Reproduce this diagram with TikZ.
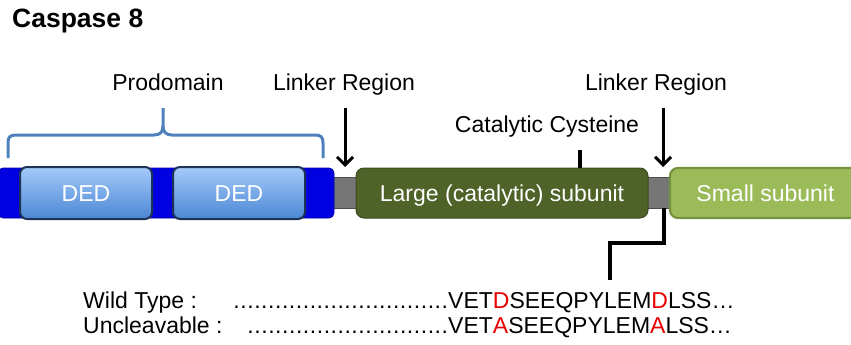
\documentclass[tikz,border=0pt]{standalone}
\usepackage{fontspec}
\setmainfont{Liberation Sans}
\usetikzlibrary{arrows.meta}
\definecolor{bluebar}{RGB}{0,0,225}
\definecolor{bluebord}{RGB}{0,0,170}
\definecolor{dedtop}{RGB}{165,202,250}
\definecolor{dedbot}{RGB}{75,135,212}
\definecolor{dedborder}{RGB}{30,50,85}
\definecolor{largeg}{RGB}{79,98,40}
\definecolor{largeb}{RGB}{60,75,30}
\definecolor{smallg}{RGB}{155,187,89}
\definecolor{smallb}{RGB}{118,146,62}
\definecolor{linkg}{RGB}{118,118,118}
\definecolor{bracec}{RGB}{79,129,189}
\definecolor{mutred}{RGB}{235,0,0}
\newcommand{\seqdots}[1]{\hbox to #1{\xleaders\hbox to 6.9pt{\hss.\hss}\hfill}}
\begin{document}
\begin{tikzpicture}[x=1pt,y=-1pt,
  lbl/.style={font=\fontsize{23}{27}\selectfont, inner sep=0pt, anchor=base},
  boxtxt/.style={font=\fontsize{23}{27}\selectfont, text=white, inner sep=0pt, text height=16.5pt, text depth=0pt},
  dedbox/.style={boxtxt, draw=dedborder, line width=2pt, rounded corners=7pt, top color=dedtop, bottom color=dedbot, minimum width=132pt, minimum height=52pt},
  probar/.style={draw=bluebord, line width=0.8pt, fill=bluebar, rounded corners=5pt, inner sep=0pt},
  linkbar/.style={draw=black!70, line width=0.8pt, fill=linkg, inner sep=0pt},
  largebox/.style={boxtxt, draw=largeb, line width=1pt, fill=largeg, rounded corners=8pt},
  smallbox/.style={boxtxt, draw=smallb, line width=2.2pt, fill=smallg, rounded corners=8pt},
  arr/.style={line width=3pt, -{Straight Barb[length=8pt,width=16pt,line width=3pt]}},
  blk/.style={line width=3.2pt},
  bracel/.style={draw=bracec, line width=3pt}
]
\useasboundingbox (0,0) rectangle (851,345);
\clip (0,0) rectangle (851,345);

% title
\node[anchor=base west, inner sep=0pt, font=\fontsize{26.5}{30}\selectfont\bfseries] (title) at (12,28) {Caspase 8};

% bars
\node[linkbar, minimum width=350pt, minimum height=31pt] (link) at (505,192.5) {};
\node[probar, minimum width=336pt, minimum height=50pt] (pro) at (166,193) {};
\node[dedbox] (ded1) at (86,193) {DED};
\node[dedbox] (ded2) at (239,193) {DED};
\node[largebox, minimum width=292pt, minimum height=50pt] (large) at (502,193) {Large (catalytic) subunit};
\node[smallbox, minimum width=200pt, minimum height=50pt] (small) at (770,193) {};
\node[boxtxt] (smalltxt) at (765.5,193) {Small subunit};

% labels
\node[lbl] (prodomain) at (168,90) {Prodomain};
\node[lbl] (link1) at (344,90) {Linker Region};
\node[lbl] (link2) at (656,90) {Linker Region};
\node[lbl] (cyst) at (547,132) {Catalytic Cysteine};

% brace
\draw[bracel] (8,158) -- (8,143) .. controls (8,137) and (10,135) .. (16,135) -- (154,135) .. controls (160,135) and (163,132) .. (163,126) -- (163,108);
\draw[bracel] (323,158) -- (323,143) .. controls (323,137) and (321,135) .. (315,135) -- (172,135) .. controls (166,135) and (163,132) .. (163,126);

% arrows
\coordinate (a1s) at (345,108);
\coordinate (a1e) at (345,167);
\coordinate (a2s) at (663,108);
\coordinate (a2e) at (663,167);
\draw[arr] (a1s) -- (a1e);
\draw[arr] (a2s) -- (a2e);

% cysteine tick
\coordinate (cys) at (580,150);
\draw[blk] (cys) -- (cys |- large.north);

% cleavage elbow
\coordinate (cl) at (664,208);
\coordinate (seqtop) at (610,280);
\draw[blk] (cl) |- (610,243) -- (seqtop);

% sequences
\node[lbl, anchor=base west] (wt) at (83,308) {Wild Type :};
\node[lbl, anchor=base west] (wtdots) at (233,308) {\seqdots{215pt}};
\node[lbl, anchor=base west] (wtseq) at (448,308) {VET\textcolor{mutred}{D}SEEQPYLEM\textcolor{mutred}{D}LSS…};
\node[lbl, anchor=base west] (un) at (83,333) {Uncleavable :};
\node[lbl, anchor=base west] (undots) at (247,333) {\seqdots{201pt}};
\node[lbl, anchor=base west] (unseq) at (448,333) {VET\textcolor{mutred}{A}SEEQPYLEM\textcolor{mutred}{A}LSS…};
\end{tikzpicture}
\end{document}
